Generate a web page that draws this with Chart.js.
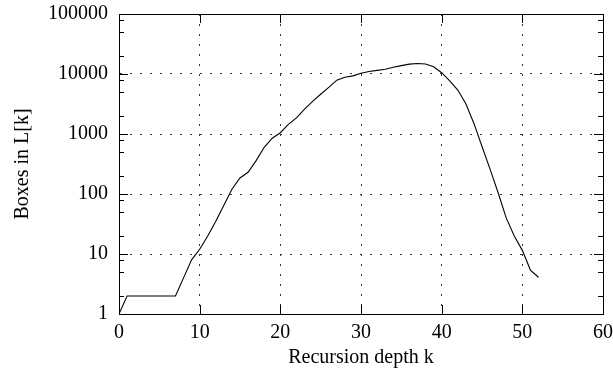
<!DOCTYPE html>
<html>
<head>
<meta charset="utf-8">
<script src="https://cdn.jsdelivr.net/npm/chart.js@4/dist/chart.umd.min.js"></script>
<style>
    html, body { margin: 0; padding: 0; background: #fff; }
    canvas { display: block; }
</style>
</head>
<body>
<canvas id="chart" width="613" height="368"></canvas>
<script>
// Recursion depth k (x values)
const depth = [0, 1, 2, 3, 4, 5, 6, 7, 8, 9, 10, 11, 12, 13, 14, 15, 16, 17, 18, 19, 20,
    21, 22, 23, 24, 25, 26, 27, 28, 29, 30, 31, 32, 33, 34, 35, 36, 37, 38, 39, 40,
    41, 42, 43, 44, 45, 46, 47, 48, 49, 50, 51, 52];

// Boxes in L[k]
const boxes = [1, 2, 2, 2, 2, 2, 2, 2, 4, 8, 12, 20, 35, 65, 120, 185, 230, 360, 600, 850, 1050,
    1450, 1850, 2600, 3500, 4600, 6000, 7900, 8800, 9300, 10300, 11000, 11500, 12000, 13000, 13800, 14600,
    15000, 14700, 13200, 10500, 7700, 5400, 3200, 1500, 620, 260, 105, 40, 20, 11.5, 5.4, 4.1];

// Axis ticks
const xTicks = [0, 10, 20, 30, 40, 50, 60];
const yTicks = [1, 10, 100, 1000, 10000, 100000];
const yMinorSteps = [2, 5, 8];

const font = { family: "'Liberation Serif', 'DejaVu Serif', serif", size: 20 };
const tickFont = { family: "'Liberation Serif', 'DejaVu Serif', serif", size: 20, lineHeight: 1 };

// Closed frame with inward tick marks, like the original plot
const framePlugin = {
    id: 'frame',
    afterDraw(chart) {
        const { ctx, chartArea: a, scales: { x, y } } = chart;
        ctx.save();
        ctx.strokeStyle = '#000';
        ctx.lineWidth = 1;
        ctx.setLineDash([]);
        ctx.strokeRect(Math.round(a.left) + 0.5, Math.round(a.top) + 0.5,
            Math.round(a.right - a.left), Math.round(a.bottom - a.top));

        ctx.beginPath();
        xTicks.forEach(v => {
            const px = Math.round(x.getPixelForValue(v)) + 0.5;
            ctx.moveTo(px, a.bottom); ctx.lineTo(px, a.bottom - 9);
            ctx.moveTo(px, a.top); ctx.lineTo(px, a.top + 9);
        });
        yTicks.forEach(v => {
            const py = Math.round(y.getPixelForValue(v)) + 0.5;
            ctx.moveTo(a.left, py); ctx.lineTo(a.left + 9, py);
            ctx.moveTo(a.right, py); ctx.lineTo(a.right - 9, py);
            if (v < 100000) {
                yMinorSteps.forEach(m => {
                    const pm = Math.round(y.getPixelForValue(v * m)) + 0.5;
                    ctx.moveTo(a.left, pm); ctx.lineTo(a.left + 5, pm);
                    ctx.moveTo(a.right, pm); ctx.lineTo(a.right - 5, pm);
                });
            }
        });
        ctx.stroke();
        ctx.restore();
    }
};

new Chart(document.getElementById('chart').getContext('2d'), {
    type: 'line',
    data: {
        datasets: [{
            data: depth.map((k, i) => ({ x: k, y: boxes[i] })),
            borderColor: '#000',
            borderWidth: 1.1,
            pointRadius: 0,
            tension: 0,
            fill: false
        }]
    },
    options: {
        responsive: false,
        devicePixelRatio: 1,
        animation: false,
        layout: { padding: { left: 11, top: 0, right: 0, bottom: 0 } },
        plugins: {
            legend: { display: false },
            tooltip: { enabled: false }
        },
        scales: {
            x: {
                type: 'linear',
                min: 0,
                max: 60,
                afterBuildTicks: scale => { scale.ticks = xTicks.map(v => ({ value: v })); },
                afterFit: scale => { scale.paddingRight = 10; scale.paddingLeft = 0; },
                ticks: { font: tickFont, color: '#000', padding: 9, maxRotation: 0 },
                grid: { color: '#333', lineWidth: 1, drawTicks: false },
                border: { display: true, color: '#000', width: 1, dash: [2, 8] },
                title: { display: true, text: 'Recursion depth k', font, color: '#000', padding: { top: -6, bottom: -2 } }
            },
            y: {
                type: 'logarithmic',
                min: 1,
                max: 100000,
                afterBuildTicks: scale => { scale.ticks = yTicks.map(v => ({ value: v })); },
                afterFit: scale => { scale.paddingTop = 14; scale.paddingBottom = 0; },
                ticks: { font: tickFont, color: '#000', padding: 11, callback: v => String(v) },
                grid: { color: '#333', lineWidth: 1, drawTicks: false },
                border: { display: true, color: '#000', width: 1, dash: [2, 8] },
                title: { display: true, text: 'Boxes in L[k]', font, color: '#000', padding: { top: 0, bottom: 2 } }
            }
        }
    },
    plugins: [framePlugin]
});
</script>
</body>
</html>
